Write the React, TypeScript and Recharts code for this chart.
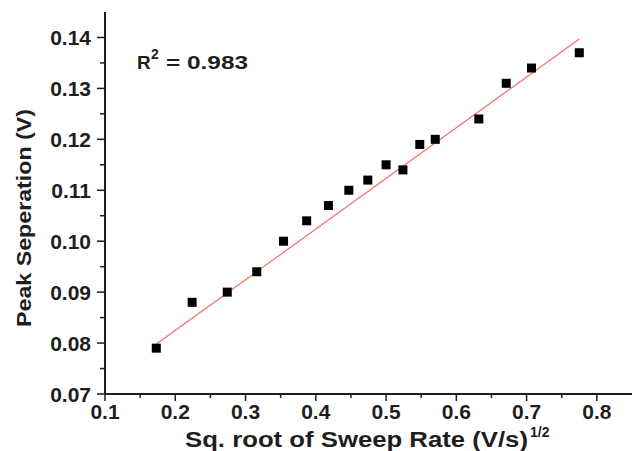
import { ScatterChart, Scatter, XAxis, YAxis, ZAxis } from 'recharts'

// sqrt of sweep rate (V/s)^1/2
const sqrtRate = [0.173, 0.224, 0.274, 0.316, 0.354, 0.387, 0.418, 0.447, 0.474, 0.5, 0.524, 0.548, 0.57, 0.632, 0.671, 0.707, 0.775]
// peak separation (V)
const peakSep = [0.079, 0.088, 0.09, 0.094, 0.1, 0.104, 0.107, 0.11, 0.112, 0.115, 0.114, 0.119, 0.12, 0.124, 0.131, 0.134, 0.137]
// linear fit end points
const fitX = [0.173, 0.775]
const fitY = [0.0798, 0.1397]

const xTicks = [0.1, 0.15, 0.2, 0.25, 0.3, 0.35, 0.4, 0.45, 0.5, 0.55, 0.6, 0.65, 0.7, 0.75, 0.8, 0.85]
const yTicks = [0.07, 0.075, 0.08, 0.085, 0.09, 0.095, 0.1, 0.105, 0.11, 0.115, 0.12, 0.125, 0.13, 0.135, 0.14, 0.145]

const points = sqrtRate.map((x, i) => ({ x, y: peakSep[i] }))
const fitLine = fitX.map((x, i) => ({ x, y: fitY[i] }))

const FONT = '"Liberation Sans", Arial, sans-serif'
const INK = '#1e1e1e'

const isMajor = (v: number, step: number) => Math.abs(v / step - Math.round(v / step)) < 1e-6

const XTick = (props: any) => {
  const { x, y, payload } = props
  const major = isMajor(payload.value, 0.1)
  if (payload.value > 0.84) return <g />
  return (
    <g>
      <line x1={x} x2={x} y1={y} y2={y + (major ? 7 : 4)} stroke={INK} strokeWidth={1.5} />
      {major && (
        <text x={x} y={y + 25} textAnchor="middle" fontFamily={FONT} fontWeight="bold" fontSize={21} fill={INK}>
          {payload.value.toFixed(1)}
        </text>
      )}
    </g>
  )
}

const YTick = (props: any) => {
  const { x, y, payload } = props
  const major = isMajor(payload.value, 0.01)
  if (payload.value > 0.144) return <g />
  return (
    <g>
      <line x1={x} x2={x - (major ? 8 : 5)} y1={y} y2={y} stroke={INK} strokeWidth={1.5} />
      {major && (
        <text x={x - 14} y={y + 7.5} textAnchor="end" fontFamily={FONT} fontWeight="bold" fontSize={21} fill={INK}>
          {payload.value.toFixed(2)}
        </text>
      )}
    </g>
  )
}

const Square = (props: any) => {
  const { cx, cy } = props
  return <rect x={cx - 4.5} y={cy - 4.5} width={9} height={9} fill="#000" />
}

const XTitle = () => (
  <g fontFamily={FONT} fontWeight="bold" fill={INK}>
    <text x={185} y={447} fontSize={22} textLength={343} lengthAdjust="spacingAndGlyphs">
      Sq. root of Sweep Rate (V/s)
    </text>
    <text x={530} y={437} fontSize={14}>1/2</text>
  </g>
)

const YTitle = () => (
  <text
    x={0}
    y={0}
    transform="translate(31, 218) rotate(-90)"
    textAnchor="middle"
    fontFamily={FONT}
    fontWeight="bold"
    fontSize={21}
    fill={INK}
    textLength={218}
    lengthAdjust="spacingAndGlyphs"
  >
    Peak Seperation (V)
  </text>
)

export default function App() {
  return (
    <div style={{ position: 'absolute', left: 0, top: 0, background: '#fff' }}>
      <ScatterChart width={633} height={451} margin={{ top: 12, right: 1, bottom: 0, left: 0 }}>
        <XAxis
          xAxisId="b"
          type="number"
          dataKey="x"
          domain={[0.1, 0.85]}
          ticks={xTicks}
          interval={0}
          height={57}
          tickSize={0}
          tickMargin={0}
          tickLine={false}
          axisLine={{ stroke: INK, strokeWidth: 2 }}
          tick={<XTick />}
          label={{ content: <XTitle /> }}
          allowDataOverflow
        />
        <XAxis
          xAxisId="t"
          orientation="top"
          type="number"
          dataKey="x"
          domain={[0.1, 0.85]}
          height={0}
          tick={false}
          tickLine={false}
          axisLine={{ stroke: '#555', strokeWidth: 1.5 }}
        />
        <YAxis
          yAxisId="l"
          type="number"
          dataKey="y"
          domain={[0.07, 0.145]}
          ticks={yTicks}
          interval={0}
          width={105}
          tickSize={0}
          tickMargin={0}
          tickLine={false}
          axisLine={{ stroke: INK, strokeWidth: 2 }}
          tick={<YTick />}
          label={{ content: <YTitle /> }}
          allowDataOverflow
        />
        <YAxis
          yAxisId="r"
          orientation="right"
          type="number"
          dataKey="y"
          domain={[0.07, 0.145]}
          width={0}
          tick={false}
          tickLine={false}
          axisLine={{ stroke: '#555', strokeWidth: 1.5 }}
        />
        <ZAxis range={[64, 64]} />
        <Scatter
          xAxisId="b"
          yAxisId="l"
          data={fitLine}
          line={{ stroke: '#f26d6d', strokeWidth: 1.2 }}
          shape={() => <g />}
          isAnimationActive={false}
        />
        <Scatter xAxisId="b" yAxisId="l" data={points} shape={<Square />} isAnimationActive={false} />
        <g fontFamily={FONT} fontWeight="bold" fill={INK}>
          <text x={137} y={69} fontSize={19}>R</text>
          <text x={151} y={59} fontSize={14}>2</text>
          <text x={166} y={69} fontSize={19} textLength={82} lengthAdjust="spacingAndGlyphs">= 0.983</text>
        </g>
      </ScatterChart>
    </div>
  )
}
